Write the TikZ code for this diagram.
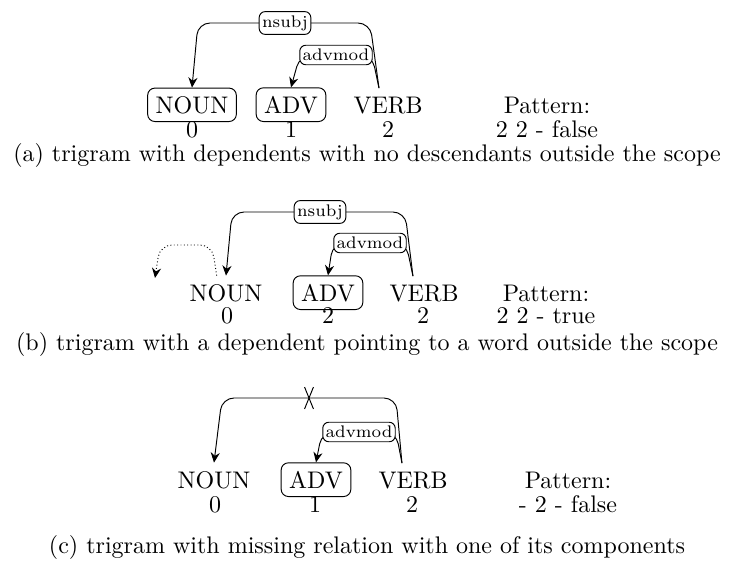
\documentclass[tikz,border=0pt]{standalone}
\usetikzlibrary{arrows.meta}
\begin{document}
\begin{tikzpicture}[x=0.41667pt,y=-0.41667pt,
  word/.style={anchor=base,inner sep=3.33pt},
  boxed/.style={word,draw,rounded corners=3pt},
  num/.style={anchor=base,inner sep=0pt},
  lab/.style={draw,fill=white,rounded corners=2.5pt,inner xsep=1.2pt,inner ysep=1.6pt,font=\fontsize{7}{8}\selectfont},
  arc/.style={rounded corners=5pt},
  tip/.style={-{Stealth[length=4.2pt,width=3.8pt]}},
  captext/.style={anchor=base,inner sep=0pt}]
\useasboundingbox (0,0) rectangle (735,569);

% ---------- (a) ----------
\node[boxed] (a-noun) at (192,113) {NOUN};
\node[boxed] (a-adv) at (291,113) {ADV};
\node[word] (a-verb) at (388,113) {VERB};
\node[num] (a-i0) at (192,137) {0};
\node[num] (a-i1) at (291,137) {1};
\node[num] (a-i2) at (388,137) {2};
\node[num] (a-pat) at (547,113) {Pattern:};
\node[num] (a-patv) at (547,137) {2 2 - false};
\coordinate (a-vtop) at ([xshift=-3.75pt]a-verb.north);
\coordinate (a-c1) at (370,23);
\coordinate (a-c2) at (198,23);
\coordinate (a-c3) at (372,55);
\coordinate (a-c4) at (300,55);
\draw[arc,tip] (a-vtop) -- (a-c1) -- (a-c2) -- (a-noun.north);
\draw[arc,tip] (a-vtop) -- (a-c3) -- (a-c4) -- (a-adv.north);
\node[lab] (a-l1) at (285,23) {nsubj};
\node[lab] (a-l2) at (336,55) {advmod};
\node[captext] (a-cap) at (367,161) {(a) trigram with dependents with no descendants outside the scope};

% ---------- (b) ----------
\node[word] (b-noun) at (226,301) {NOUN};
\node[boxed] (b-adv) at (328,301) {ADV};
\node[word] (b-verb) at (424,301) {VERB};
\node[num] (b-i0) at (227,323) {0};
\node[num] (b-i1) at (328,323) {2};
\node[num] (b-i2) at (423,323) {2};
\node[num] (b-pat) at (546,301) {Pattern:};
\node[num] (b-patv) at (546,323) {2 2 - true};
\coordinate (b-vtop) at ([xshift=-4.6pt]b-verb.north);
\coordinate (b-ntop) at ([xshift=-3.9pt]b-noun.north);
\coordinate (b-c1) at (405,212);
\coordinate (b-c2) at (232,212);
\coordinate (b-c3) at (406,243);
\coordinate (b-c4) at (333,243);
\coordinate (b-c5) at (212,245);
\coordinate (b-c6) at (160,245);
\coordinate (b-out) at (155,278);
\draw[arc,tip] (b-vtop) -- (b-c1) -- (b-c2) -- (b-noun.north);
\draw[arc,tip] (b-vtop) -- (b-c3) -- (b-c4) -- (b-adv.north);
\draw[arc,tip,densely dotted] (b-ntop) -- (b-c5) -- (b-c6) -- (b-out);
\node[lab] (b-l1) at (320,212) {nsubj};
\node[lab] (b-l2) at (370,243) {advmod};
\node[captext] (b-cap) at (367,350) {(b) trigram with a dependent pointing to a word outside the scope};

% ---------- (c) ----------
\node[word] (c-noun) at (214,488) {NOUN};
\node[boxed] (c-adv) at (316,488) {ADV};
\node[word] (c-verb) at (413,488) {VERB};
\node[num] (c-i0) at (215,512) {0};
\node[num] (c-i1) at (315,512) {1};
\node[num] (c-i2) at (412,512) {2};
\node[num] (c-pat) at (568,488) {Pattern:};
\node[num] (c-patv) at (568,512) {- 2 - false};
\coordinate (c-vtop) at ([xshift=-4.6pt]c-verb.north);
\coordinate (c-c1) at (396,398);
\coordinate (c-c2) at (222,398);
\coordinate (c-c3) at (396,432);
\coordinate (c-c4) at (322,432);
\draw[arc,tip] (c-vtop) -- (c-c1) -- (c-c2) -- (c-noun.north);
\draw[arc,tip] (c-vtop) -- (c-c3) -- (c-c4) -- (c-adv.north);
\node[inner sep=0pt,minimum width=3.3pt,minimum height=8.7pt] (c-cut) at (309,398) {};
\draw (c-cut.north west) -- (c-cut.south east);
\draw (c-cut.north east) -- (c-cut.south west);
\node[lab] (c-l2) at (359,432) {advmod};
\node[captext] (c-cap) at (367,553) {(c) trigram with missing relation with one of its components};
\end{tikzpicture}
\end{document}
